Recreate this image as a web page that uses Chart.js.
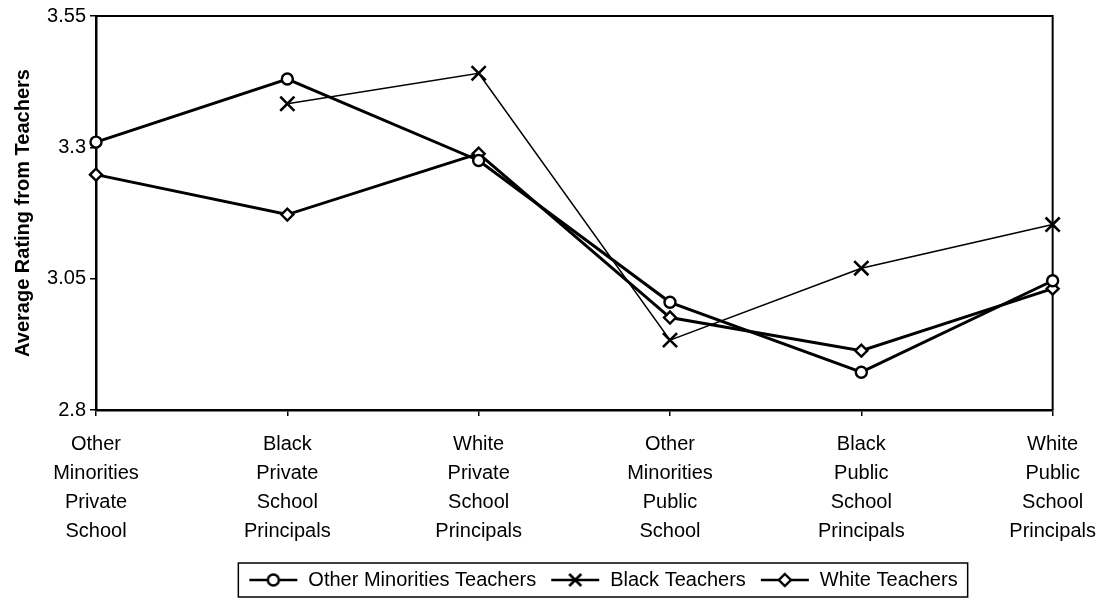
<!DOCTYPE html>
<html>
<head>
<meta charset="utf-8">
<script src="https://cdn.jsdelivr.net/npm/chart.js@4"></script>
<style>
html,body{margin:0;padding:0;background:#fff;}
canvas{display:block;}
</style>
</head>
<body>
<canvas id="c" width="1110" height="603"></canvas>
<script>
// ---- data ----
const categories = [
  ["Other", "Minorities", "Private", "School"],
  ["Black", "Private", "School", "Principals"],
  ["White", "Private", "School", "Principals"],
  ["Other", "Minorities", "Public", "School"],
  ["Black", "Public", "School", "Principals"],
  ["White", "Public", "School", "Principals"]
];
const otherMinoritiesTeachers = [3.31, 3.43, 3.275, 3.005, 2.872, 3.046];
const blackTeachers = [null, 3.383, 3.441, 2.933, 3.070, 3.153];
const whiteTeachers = [3.248, 3.172, 3.288, 2.976, 2.913, 3.031];
const seriesNames = ["Other Minorities Teachers", "Black Teachers", "White Teachers"];
const yTickValues = [2.8, 3.05, 3.3, 3.55];
const yTickLabels = ["2.8", "3.05", "3.3", "3.55"];
const yTitle = "Average Rating from Teachers";

// ---- style ----
const FONT = "'Liberation Sans', Arial, Helvetica, sans-serif";
Chart.defaults.font.family = FONT;
Chart.defaults.color = '#000';

function makeIcon(kind) {
  const c = document.createElement('canvas');
  c.width = 50; c.height = 20;
  const g = c.getContext('2d');
  g.strokeStyle = '#000';
  g.fillStyle = '#fff';
  g.lineWidth = 2.6;
  g.beginPath(); g.moveTo(1, 10); g.lineTo(49, 10); g.stroke();
  g.lineWidth = 2.4;
  if (kind === 'circle') {
    g.beginPath(); g.arc(25, 10, 5.5, 0, Math.PI * 2); g.fill(); g.stroke();
  } else if (kind === 'cross') {
    g.lineWidth = 2.6;
    g.beginPath(); g.moveTo(19, 4); g.lineTo(31, 16); g.moveTo(31, 4); g.lineTo(19, 16); g.stroke();
  } else {
    g.beginPath(); g.moveTo(25, 4); g.lineTo(31, 10); g.lineTo(25, 16); g.lineTo(19, 10); g.closePath(); g.fill(); g.stroke();
  }
  return c;
}
const icons = [makeIcon('circle'), makeIcon('cross'), makeIcon('diamond')];

const framePlugin = {
  id: 'frame',
  afterLayout(chart) {
    const L = chart.legend;
    if (L) { L.left = 96; L.right = 1110; L.width = L.right - L.left; }
  },
  beforeDatasetsDraw(chart) {
    const a = chart.chartArea, ctx = chart.ctx;
    ctx.save();
    ctx.strokeStyle = '#000';
    ctx.lineWidth = 2;
    ctx.beginPath();
    ctx.moveTo(a.left, a.top); ctx.lineTo(a.right, a.top); ctx.lineTo(a.right, a.bottom);
    ctx.stroke();
    ctx.restore();
  },
  afterDraw(chart) {
    const L = chart.legend;
    if (!L || !L.legendHitBoxes || !L.legendHitBoxes.length) return;
    const hb = L.legendHitBoxes;
    let l = Infinity, r = -Infinity, t = Infinity, b = -Infinity;
    hb.forEach(h => { l = Math.min(l, h.left); r = Math.max(r, h.left + h.width); t = Math.min(t, h.top); b = Math.max(b, h.top + h.height); });
    const ctx = chart.ctx;
    ctx.save();
    ctx.strokeStyle = '#000';
    ctx.lineWidth = 1.5;
    ctx.strokeRect(l - 10, t - 7, (r - l) + 20, (b - t) + 14);
    ctx.restore();
  }
};

const common = { borderColor: '#000', pointBorderColor: '#000', pointBackgroundColor: '#fff', tension: 0, fill: false };

new Chart(document.getElementById('c'), {
  type: 'line',
  data: {
    labels: categories,
    datasets: [
      Object.assign({}, common, { label: seriesNames[0], data: otherMinoritiesTeachers, borderWidth: 3, pointStyle: 'circle', pointRadius: 5.5, pointBorderWidth: 2.4 }),
      Object.assign({}, common, { label: seriesNames[1], data: blackTeachers, borderWidth: 1.6, pointStyle: 'crossRot', pointRadius: 10, pointBorderWidth: 2.6 }),
      Object.assign({}, common, { label: seriesNames[2], data: whiteTeachers, borderWidth: 3, pointStyle: 'rectRot', pointRadius: 6, pointBorderWidth: 2.4 })
    ]
  },
  options: {
    responsive: false,
    animation: false,
    events: [],
    layout: { padding: { left: 0, right: 56, top: 11, bottom: 3 } },
    plugins: {
      tooltip: { enabled: false },
      legend: {
        position: 'bottom',
        labels: {
          usePointStyle: true,
          pointStyleWidth: 50,
          boxHeight: 20,
          padding: 14,
          font: { size: 20 },
          color: '#000',
          generateLabels(chart) {
            const items = Chart.defaults.plugins.legend.labels.generateLabels(chart);
            items.forEach((it, i) => { it.pointStyle = icons[i]; });
            return items;
          }
        }
      }
    },
    scales: {
      x: {
        type: 'category',
        offset: false,
        afterFit(scale) { scale.height = 146; },
        grid: { display: true, drawOnChartArea: false, drawTicks: true, tickLength: 6, color: '#000', lineWidth: 1.5 },
        border: { display: true, color: '#000', width: 2.5 },
        ticks: { maxRotation: 0, autoSkip: false, padding: 14, font: { size: 20, lineHeight: 1.45 }, color: '#000' }
      },
      y: {
        min: 2.8,
        max: 3.55,
        afterFit(scale) { scale.width = 96; },
        afterBuildTicks(scale) { scale.ticks = yTickValues.map(v => ({ value: v })); },
        grid: { display: true, drawOnChartArea: false, drawTicks: true, tickLength: 6, color: '#000', lineWidth: 1.5 },
        border: { display: true, color: '#000', width: 2.5 },
        ticks: {
          padding: 4,
          font: { size: 20 },
          color: '#000',
          callback(value, index) { return yTickLabels[index]; }
        },
        title: { display: true, text: yTitle, font: { size: 20, weight: 'bold' }, color: '#000', padding: { top: 11, bottom: 0 } }
      }
    }
  },
  plugins: [framePlugin]
});
</script>
</body>
</html>
